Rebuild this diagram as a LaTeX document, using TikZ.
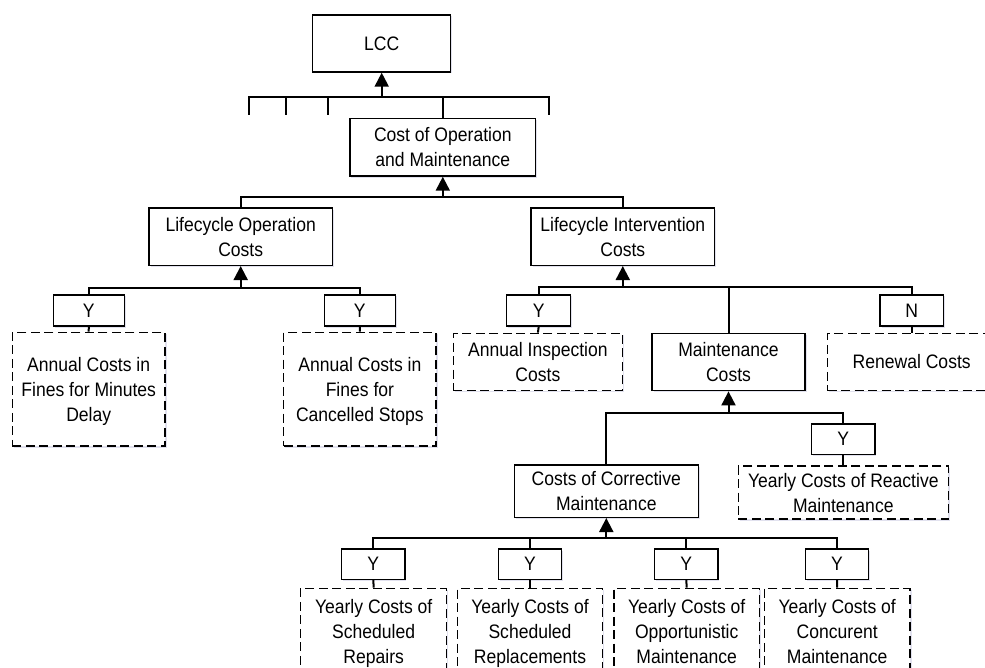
\documentclass[tikz,border=0pt]{standalone}
\usepackage{fontspec}
\setmainfont{Liberation Sans}[FakeStretch=0.9]
\usetikzlibrary{arrows.meta,shadows}
\newcommand\fstr{\rule{0pt}{18.5pt}}
\newcommand\lstr{\rule[-4.5pt]{0pt}{4.5pt}}
\begin{document}
\begin{tikzpicture}[x=1pt,y=-1pt,
  font=\fontsize{19.5}{25}\selectfont,
  base/.style={draw=black,line width=1.4pt,fill=white,align=center,inner sep=0pt,
    drop shadow={shadow xshift=1.5pt,shadow yshift=-1.5pt,fill=blue!30!gray,opacity=0.18}},
  box/.style={base,minimum width=#1},
  dbox/.style={base,dash pattern=on 9pt off 4.5pt,minimum width=#1},
  conn/.style={line width=2pt,line join=miter},
  arr/.style={line width=2pt,-{Triangle[length=14pt,width=14pt]}}
]
\clip (0,0) rectangle (985,668);
\fill[white] (0,0) rectangle (985,668);

% level 0/1
\node[box=138,minimum height=57] (lcc) at (381.7,43.5) {LCC};
\node[box=185.7,minimum height=57.7] (cop) at (442.8,147.2) {\fstr Cost of Operation\\and Maintenance\lstr};
% level 2
\node[box=183.3,minimum height=57.3] (loc) at (240.7,236.7) {\fstr Lifecycle Operation\\Costs\lstr};
\node[box=183.6,minimum height=57.3] (lic) at (622.8,236.7) {\fstr Lifecycle Intervention\\Costs\lstr};
% operation children
\node[box=71,minimum height=31] (y1) at (88.8,310.5) {Y};
\node[box=71,minimum height=31] (y2) at (359.8,310.5) {Y};
\node[dbox=152.7,minimum height=113.7] (d1) at (88.7,389.2) {\fstr Annual Costs in\\Fines for Minutes\\Delay\lstr};
\node[dbox=152.3,minimum height=113.7] (d2) at (359.9,389.2) {\fstr Annual Costs in\\Fines for\\Cancelled Stops\lstr};
% intervention children
\node[box=64,minimum height=31] (y3) at (538.7,310.5) {Y};
\node[box=63.3,minimum height=31] (yn) at (911.7,310.5) {N};
\node[dbox=169.2,minimum height=57.4] (insp) at (537.9,362) {\fstr Annual Inspection\\Costs\lstr};
\node[box=153,minimum height=57.4] (mc) at (728.5,362) {\fstr Maintenance\\Costs\lstr};
\node[dbox=168,minimum height=57.4] (ren) at (911.7,362) {Renewal Costs};
% maintenance children
\node[box=184,minimum height=52.3] (corr) at (606.3,491.2) {\fstr Costs of Corrective\\Maintenance\lstr};
\node[box=63.3,minimum height=30.3] (yr) at (843.3,439.2) {Y};
\node[dbox=210,minimum height=53] (react) at (843.3,492.5) {\fstr Yearly Costs of Reactive\\Maintenance\lstr};
% corrective children
\node[box=63.3,minimum height=30.3] (by1) at (373.3,564.2) {Y};
\node[box=63.3,minimum height=30.3] (by2) at (530,564.2) {Y};
\node[box=63.3,minimum height=30.3] (by3) at (686.3,564.2) {Y};
\node[box=63.3,minimum height=30.3] (by4) at (837,564.2) {Y};
\node[dbox=146,minimum height=86] (bd1) at (373.7,631.3) {\fstr Yearly Costs of\\Scheduled\\Repairs\lstr};
\node[dbox=145.4,minimum height=86] (bd2) at (530,631.3) {\fstr Yearly Costs of\\Scheduled\\Replacements\lstr};
\node[dbox=145.3,minimum height=86] (bd3) at (686.7,631.3) {\fstr Yearly Costs of\\Opportunistic\\Maintenance\lstr};
\node[dbox=145.7,minimum height=86] (bd4) at (837.2,631.3) {\fstr Yearly Costs of\\Concurent\\Maintenance\lstr};

% bus coordinates
\coordinate (b0) at (381.7,96.7);
\coordinate (t1) at (249.3,115);
\coordinate (t2) at (285.7,115);
\coordinate (t3) at (327.7,115);
\coordinate (t4) at (549,115);
\coordinate (b1) at (442.8,196.7);
\coordinate (b2) at (240.7,288);
\coordinate (b3) at (622.8,287);
\coordinate (b4) at (728.5,412.7);
\coordinate (b5) at (606.3,538.3);

% top bus
\draw[conn] (t1) |- (b0) -| (t4);
\draw[conn] (t2) -- (t2 |- b0);
\draw[conn] (t3) -- (t3 |- b0);
\draw[conn] (cop.north) -- (cop.north |- b0);
\draw[arr] (b0) -- (lcc.south);

% cost of operation bus
\draw[conn] (loc.north) |- (b1) -| (lic.north);
\draw[arr] (b1) -- (cop.south);

% lifecycle operation bus
\draw[conn] (y1.north) |- (b2) -| (y2.north);
\draw[arr] (b2) -- (loc.south);
\draw[conn] (y1.south) -- (d1.north);
\draw[conn] (y2.south) -- (d2.north);

% lifecycle intervention bus
\draw[conn] (y3.north) |- (b3) -| (yn.north);
\draw[conn] (mc.north) -- (mc.north |- b3);
\draw[arr] (b3) -- (lic.south);
\draw[conn] (y3.south) -- (insp.north);
\draw[conn] (yn.south) -- (ren.north);

% maintenance bus
\draw[conn] (corr.north) |- (b4) -| (yr.north);
\draw[arr] (b4) -- (mc.south);
\draw[conn] (yr.south) -- (react.north);

% corrective bus
\draw[conn] (by1.north) |- (b5) -| (by4.north);
\draw[conn] (by2.north) -- (by2.north |- b5);
\draw[conn] (by3.north) -- (by3.north |- b5);
\draw[arr] (b5) -- (corr.south);
\draw[conn] (by1.south) -- (bd1.north);
\draw[conn] (by2.south) -- (bd2.north);
\draw[conn] (by3.south) -- (bd3.north);
\draw[conn] (by4.south) -- (bd4.north);
\end{tikzpicture}
\end{document}
